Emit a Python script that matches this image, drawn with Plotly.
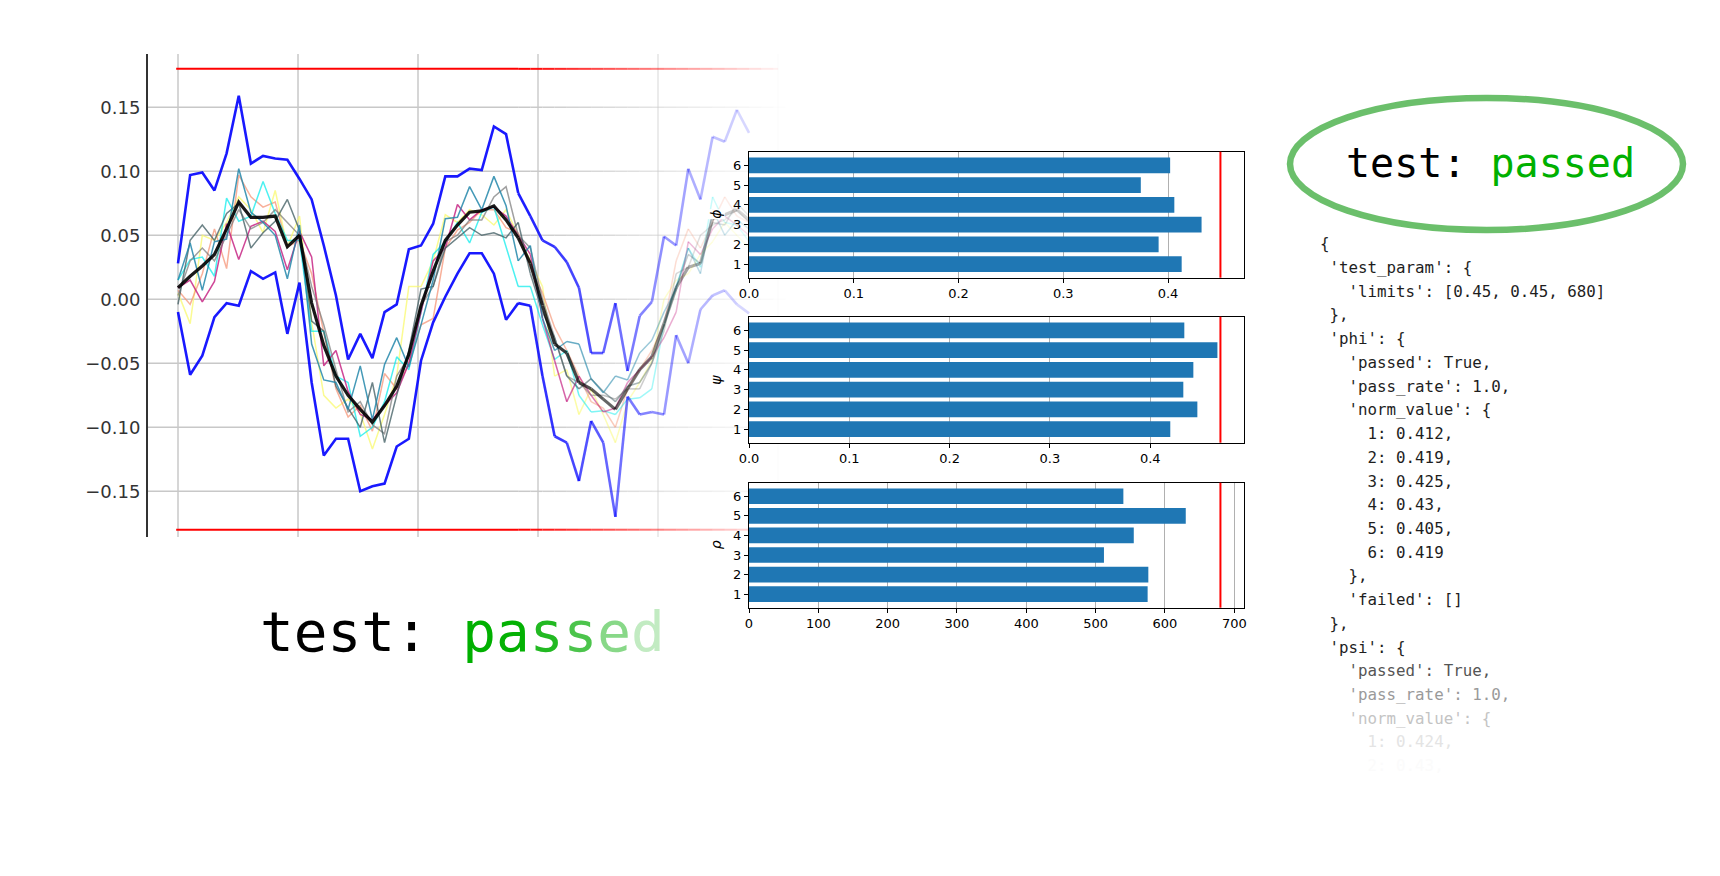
import plotly.graph_objects as go

W, H = 1720, 876

# ---------------- line chart data ----------------
sample_idx = list(range(48))
mean_curve = [0.009, 0.018, 0.026, 0.035, 0.055, 0.076, 0.064, 0.064, 0.065, 0.041,
              0.050, -0.003, -0.036, -0.060, -0.075, -0.086, -0.096, -0.083, -0.068, -0.043,
              -0.005, 0.022, 0.046, 0.058, 0.068, 0.069, 0.073, 0.062, 0.048, 0.028,
              -0.005, -0.035, -0.042, -0.065, -0.070, -0.078, -0.086, -0.070, -0.055, -0.045,
              -0.019, 0.009, 0.025, 0.028, 0.063, 0.066, 0.070, 0.062]
upper_env = [0.028, 0.097, 0.099, 0.085, 0.114, 0.159, 0.106, 0.112, 0.110, 0.109,
             0.094, 0.078, 0.042, 0.003, -0.047, -0.027, -0.046, -0.010, -0.004, 0.039,
             0.042, 0.059, 0.096, 0.096, 0.102, 0.101, 0.135, 0.129, 0.083, 0.065,
             0.046, 0.041, 0.029, 0.009, -0.042, -0.042, -0.003, -0.056, -0.013, -0.002,
             0.049, 0.042, 0.102, 0.078, 0.127, 0.123, 0.148, 0.130]
lower_env = [-0.010, -0.059, -0.044, -0.014, -0.003, -0.005, 0.022, 0.016, 0.021, -0.027,
             0.013, -0.065, -0.122, -0.109, -0.109, -0.150, -0.146, -0.144, -0.115, -0.109,
             -0.048, -0.018, 0.002, 0.020, 0.036, 0.036, 0.020, -0.016, -0.003, -0.005,
             -0.060, -0.107, -0.112, -0.142, -0.095, -0.112, -0.170, -0.076, -0.090, -0.088,
             -0.090, -0.028, -0.050, -0.008, 0.003, 0.007, -0.004, -0.011]
run_teal = [0.015, 0.044, 0.007, 0.045, 0.047, 0.102, 0.068, 0.060, 0.050, 0.016,
            0.058, -0.035, -0.063, -0.065, -0.086, -0.052, -0.094, -0.051, -0.030, -0.053,
            -0.020, 0.015, 0.063, 0.064, 0.088, 0.070, 0.096, 0.073, 0.030, 0.042,
            -0.015, -0.040, -0.033, -0.035, -0.062, -0.073, -0.060, -0.063, -0.042, -0.032,
            -0.010, 0.008, 0.040, 0.020, 0.070, 0.050, 0.062, 0.055]
run_slate = [-0.004, 0.046, 0.058, 0.046, 0.067, 0.075, 0.040, 0.052, 0.061, 0.078,
             0.054, -0.017, -0.025, -0.068, -0.085, -0.100, -0.065, -0.112, -0.075, -0.040,
             0.008, 0.010, 0.040, 0.048, 0.056, 0.050, 0.052, 0.048, 0.060, 0.020,
             -0.010, -0.030, -0.060, -0.070, -0.062, -0.072, -0.080, -0.068, -0.065, -0.050,
             -0.020, 0.010, 0.035, 0.028, 0.060, 0.058, 0.075, 0.065]
run_cyan = [0.015, 0.031, 0.033, 0.018, 0.079, 0.061, 0.065, 0.092, 0.067, 0.046,
            0.046, -0.025, -0.025, -0.060, -0.065, -0.107, -0.100, -0.080, -0.045, -0.055,
            -0.010, 0.035, 0.045, 0.060, 0.044, 0.068, 0.072, 0.040, 0.010, 0.010,
            -0.020, -0.047, -0.040, -0.075, -0.088, -0.087, -0.090, -0.078, -0.077, -0.070,
            -0.020, 0.010, 0.040, 0.025, 0.080, 0.060, 0.058, 0.045]
run_yellow = [0.005, -0.019, 0.050, 0.046, 0.060, 0.080, 0.070, 0.052, 0.085, 0.041,
              0.065, -0.018, -0.075, -0.085, -0.078, -0.089, -0.117, -0.090, -0.060, 0.010,
              0.010, 0.030, 0.066, 0.060, 0.070, 0.066, 0.058, 0.070, 0.050, 0.030,
              0.010, -0.060, -0.055, -0.090, -0.070, -0.090, -0.112, -0.080, -0.065, -0.048,
              0.000, 0.015, 0.020, 0.035, 0.045, 0.060, 0.050, 0.040]
run_salmon = [0.007, -0.004, 0.020, 0.055, 0.024, 0.097, 0.080, 0.072, 0.076, 0.041,
              0.046, 0.020, -0.026, -0.070, -0.092, -0.083, -0.103, -0.058, -0.070, -0.050,
              -0.020, -0.015, 0.040, 0.054, 0.060, 0.070, 0.070, 0.056, 0.052, 0.025,
              0.005, -0.022, -0.040, -0.060, -0.080, -0.085, -0.100, -0.070, -0.055, -0.040,
              -0.020, 0.030, 0.055, 0.040, 0.060, 0.080, 0.065, 0.060]
run_violet = [0.009, 0.015, -0.002, 0.014, 0.059, 0.031, 0.057, 0.061, 0.053, 0.023,
              0.053, 0.033, -0.052, -0.040, -0.072, -0.090, -0.094, -0.083, -0.073, -0.050,
              -0.010, 0.030, 0.040, 0.074, 0.062, 0.070, 0.072, 0.065, 0.050, 0.035,
              -0.015, -0.048, -0.080, -0.060, -0.075, -0.088, -0.085, -0.065, -0.055, -0.045,
              -0.030, -0.010, 0.045, 0.035, 0.055, 0.065, 0.058, 0.050]
run_gray = [0.003, 0.030, 0.040, 0.030, 0.050, 0.070, 0.055, 0.060, 0.070, 0.060,
            0.050, 0.010, -0.020, -0.055, -0.088, -0.080, -0.098, -0.105, -0.060, -0.045,
            -0.005, 0.010, 0.045, 0.050, 0.062, 0.062, 0.080, 0.088, 0.050, 0.040,
            0.000, -0.030, -0.060, -0.065, -0.075, -0.075, -0.078, -0.070, -0.070, -0.050,
            -0.025, 0.020, 0.025, 0.050, 0.058, 0.062, 0.070, 0.060]
limit_band = [-0.18, 0.18]
y_tick_vals = [-0.15, -0.10, -0.05, 0.00, 0.05, 0.10, 0.15]
x_grid_vals = [0.0, 9.877, 19.753, 29.630, 39.506, 49.383]

# ---------------- bar chart data ----------------
channels = [1, 2, 3, 4, 5, 6]
phi_norm = [0.413, 0.391, 0.432, 0.406, 0.374, 0.402]
psi_norm = [0.420, 0.447, 0.433, 0.443, 0.467, 0.434]
rho_norm = [575, 576, 512, 555, 630, 540]
bar_limits = [0.45, 0.47, 680]
frac_ticks = [0.0, 0.1, 0.2, 0.3, 0.4]
count_ticks = [0, 100, 200, 300, 400, 500, 600, 700]

json_lines = [
    "{",
    " 'test_param': {",
    "   'limits': [0.45, 0.45, 680]",
    " },",
    " 'phi': {",
    "   'passed': True,",
    "   'pass_rate': 1.0,",
    "   'norm_value': {",
    "     1: 0.412,",
    "     2: 0.419,",
    "     3: 0.425,",
    "     4: 0.43,",
    "     5: 0.405,",
    "     6: 0.419",
    "   },",
    "   'failed': []",
    " },",
    " 'psi': {",
    "   'passed': True,",
    "   'pass_rate': 1.0,",
    "   'norm_value': {",
    "     1: 0.424,",
    "     2: 0.43,",
]
json_colors = ["#1e1e1e"] * 18 + ["#555555", "#9a9a9a", "#c4c4c4", "#e4e4e4", "#fbfbfb"]

# ---------------- helpers ----------------
PX0, PXU = 178.0, 12.15          # pixel of sample 0, pixels per sample
FADE_END, FADE_LEN = 790.0, 270.0


def px_of(x):
    return PX0 + PXU * x


def fade(x):
    return max(0.0, min(1.0, (FADE_END - px_of(x)) / FADE_LEN))


def rgba(rgb, a):
    return "rgba(%d,%d,%d,%.3f)" % (rgb[0], rgb[1], rgb[2], a)


fig = go.Figure()


def add_faded(xs, ys, rgb, alpha, width):
    solid_end = 0
    for k in range(len(xs) - 1):
        if fade((xs[k] + xs[k + 1]) / 2) >= 0.999:
            solid_end = k + 1
        else:
            break
    if solid_end > 0:
        fig.add_trace(go.Scatter(x=xs[:solid_end + 1], y=ys[:solid_end + 1], mode="lines",
                                 line=dict(color=rgba(rgb, alpha), width=width),
                                 hoverinfo="skip", showlegend=False))
    for k in range(solid_end, len(xs) - 1):
        f = fade((xs[k] + xs[k + 1]) / 2)
        if f <= 0.01:
            continue
        fig.add_trace(go.Scatter(x=xs[k:k + 2], y=ys[k:k + 2], mode="lines",
                                 line=dict(color=rgba(rgb, alpha * f), width=width),
                                 hoverinfo="skip", showlegend=False))


Y_LO, Y_HI = -0.1857, 0.1916
X_LO, X_HI = (148 - PX0) / PXU, (800 - PX0) / PXU

# gridlines (faded)
grid_xs = [X_LO] + list(range(28, 52))
for gv in y_tick_vals:
    add_faded(grid_xs, [gv] * len(grid_xs), (200, 200, 200), 1.0, 1.5)
for gx in x_grid_vals:
    f = fade(gx)
    fig.add_trace(go.Scatter(x=[gx, gx], y=[Y_LO, Y_HI], mode="lines",
                             line=dict(color=rgba((200, 200, 200), f), width=1.5),
                             hoverinfo="skip", showlegend=False))

# limit lines
lim_xs = [-0.15] + list(range(28, 50)) + [49.4]
for lv in limit_band:
    add_faded(lim_xs, [lv] * len(lim_xs), (255, 0, 0), 1.0, 2)

thin = [
    (run_yellow, (250, 250, 110), 0.75),
    (run_salmon, (245, 150, 120), 0.75),
    (run_cyan, (0, 235, 235), 0.7),
    (run_violet, (195, 25, 125), 0.8),
    (run_gray, (120, 120, 120), 0.7),
    (run_slate, (60, 90, 95), 0.75),
    (run_teal, (35, 135, 170), 0.85),
]
for vals, rgb, a in thin:
    add_faded(sample_idx, vals, rgb, a, 1.5)

add_faded(sample_idx, upper_env, (0, 0, 255), 0.9, 2.6)
add_faded(sample_idx, lower_env, (0, 0, 255), 0.9, 2.6)
add_faded(sample_idx, mean_curve, (0, 0, 0), 0.9, 3.2)

# ---------------- bar charts ----------------
BAR_L, BAR_R = 749.0, 1244.0
bar_boxes = [(151.7, 277.7), (316.7, 442.7), (482.7, 607.7)]
bar_sets = [(phi_norm, bar_limits[0], frac_ticks, ".1f", "ϕ"),
            (psi_norm, bar_limits[1], frac_ticks, ".1f", "ψ"),
            (rho_norm, bar_limits[2], count_ticks, "d", "ρ")]

layout_axes = {}
shapes = []
annotations = []
for k, ((vals, lim, ticks, fmt, lab), (top, bot)) in enumerate(zip(bar_sets, bar_boxes)):
    n = k + 2
    fig.add_trace(go.Bar(x=vals, y=channels, orientation="h", width=0.8,
                         marker=dict(color="#1f77b4", line=dict(width=0)),
                         xaxis="x%d" % n, yaxis="y%d" % n, hoverinfo="skip", showlegend=False))
    layout_axes["xaxis%d" % n] = dict(
        domain=[BAR_L / W, BAR_R / W], range=[0, lim * 1.05], anchor="y%d" % n,
        automargin=False,
        showline=True, mirror=True, linecolor="black", linewidth=1,
        ticks="outside", ticklen=4, tickwidth=1, tickcolor="black",
        showgrid=True, gridcolor="#b0b0b0", gridwidth=1, zeroline=False,
        tickvals=ticks, tickformat=fmt,
        tickfont=dict(family="DejaVu Sans", size=13, color="black"))
    layout_axes["yaxis%d" % n] = dict(
        domain=[1 - bot / H, 1 - top / H], range=[0.31, 6.69], anchor="x%d" % n,
        automargin=False,
        showline=True, mirror=True, linecolor="black", linewidth=1,
        ticks="outside", ticklen=4, tickwidth=1, tickcolor="black",
        showgrid=False, zeroline=False, tickvals=channels,
        tickfont=dict(family="DejaVu Sans", size=13, color="black"))
    shapes.append(dict(type="line", xref="x%d" % n, yref="y%d domain" % n,
                       x0=lim, x1=lim, y0=0, y1=1, line=dict(color="red", width=2)))
    annotations.append(dict(xref="paper", yref="paper", x=716 / W, y=1 - (top + bot) / 2 / H,
                            text="<i>%s</i>" % lab, textangle=-90, showarrow=False,
                            xanchor="center", yanchor="middle", bgcolor="white", borderpad=0,
                            font=dict(family="DejaVu Sans", size=14, color="black")))

# ellipse around the summary
shapes.append(dict(type="circle", xref="paper", yref="paper",
                   x0=1290 / W, x1=1683 / W, y0=1 - 230 / H, y1=1 - 98 / H,
                   line=dict(color="rgba(70,175,70,0.8)", width=6.5)))

# texts
annotations.append(dict(xref="paper", yref="paper", x=1490 / W, y=1 - 163 / H,
                        xanchor="center", yanchor="middle", showarrow=False,
                        text='<span style="color:#000000">test: </span>'
                             '<span style="color:#00b000">passed</span>',
                        font=dict(family="DejaVu Sans Mono", size=40)))

pass_colors = ["#00b000", "#03b103", "#22b922", "#4cc44c", "#88d888", "#c2ebc2"]
bottom_txt = '<span style="color:#000000">test: </span>' + "".join(
    '<span style="color:%s">%s</span>' % (c, ch) for c, ch in zip(pass_colors, "passed"))
annotations.append(dict(xref="paper", yref="paper", x=462 / W, y=1 - 631 / H,
                        xanchor="center", yanchor="middle", showarrow=False,
                        text=bottom_txt, font=dict(family="DejaVu Sans Mono", size=56)))

for li, (line_txt, col) in enumerate(zip(json_lines, json_colors)):
    annotations.append(dict(xref="paper", yref="paper", x=1318 / W,
                            y=1 - (243.8 + 23.72 * li) / H,
                            xanchor="left", yanchor="middle", showarrow=False,
                            text=line_txt.replace(" ", "\u00a0"),
                            font=dict(family="DejaVu Sans Mono", size=15.8, color=col)))

fig.update_layout(
    width=W, height=H, margin=dict(l=0, r=0, t=0, b=0, pad=0, autoexpand=False),
    paper_bgcolor="white", plot_bgcolor="white",
    showlegend=False, hovermode=False,
    xaxis=dict(domain=[148 / W, 800 / W], range=[X_LO, X_HI], visible=False, automargin=False),
    yaxis=dict(domain=[1 - 537 / H, 1 - 54 / H], range=[Y_LO, Y_HI], automargin=False,
               showgrid=False, zeroline=False, showline=True, linecolor="#333333", linewidth=2,
               ticks="outside", ticklen=2, tickcolor="rgba(0,0,0,0)",
               tickvals=y_tick_vals, tickformat=".2f",
               tickfont=dict(family="DejaVu Sans", size=18, color="#333333")),
    shapes=shapes, annotations=annotations,
    **layout_axes,
)

fig.write_html("out.html")
